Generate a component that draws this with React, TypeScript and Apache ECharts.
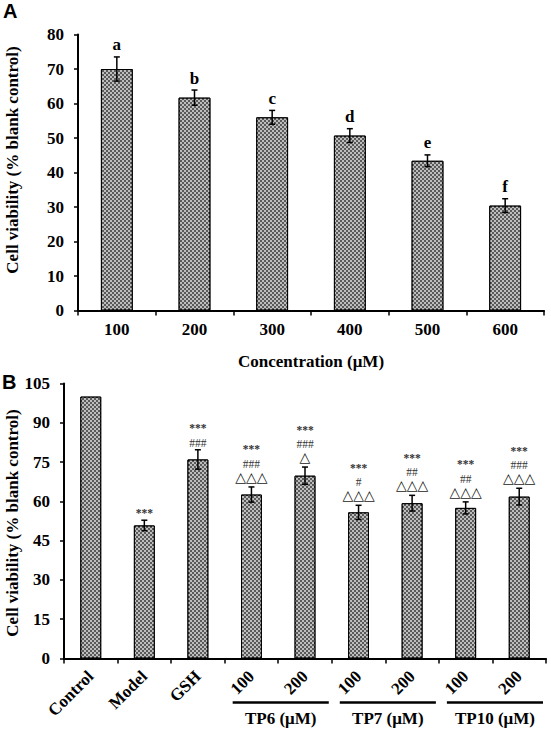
import React, { useEffect, useRef } from "react";
import * as echarts from "echarts";

// ---------- Panel A data ----------
const A_CATEGORIES = ["100", "200", "300", "400", "500", "600"];
const A_VALUES = [70.0, 61.7, 56.0, 50.7, 43.4, 30.4];
const A_ERRORS = [3.5, 2.2, 2.0, 2.0, 1.7, 2.0];
const A_LETTERS = ["a", "b", "c", "d", "e", "f"];
const A_Y_MIN = 0;
const A_Y_MAX = 80;
const A_Y_STEP = 10;
const A_X_TITLE = "Concentration (μM)";

// ---------- Panel B data ----------
const B_CATEGORIES = ["Control", "Model", "GSH", "100", "200", "100", "200", "100", "200"];
const B_VALUES = [100, 50.8, 76.0, 62.6, 69.8, 55.8, 59.3, 57.5, 61.8];
const B_ERRORS = [0, 2.0, 3.7, 2.9, 3.3, 2.7, 3.0, 2.3, 3.2];
const B_STARS = ["", "***", "***", "***", "***", "***", "***", "***", "***"];
const B_HASHES = ["", "", "###", "###", "###", "#", "##", "##", "###"];
const B_TRIANGLES = ["", "", "", "△△△", "△", "△△△", "△△△", "△△△", "△△△"];
const B_GROUPS = [
  { label: "TP6 (μM)", first: 3, last: 4 },
  { label: "TP7 (μM)", first: 5, last: 6 },
  { label: "TP10 (μM)", first: 7, last: 8 },
];
const B_Y_MIN = 0;
const B_Y_MAX = 105;
const B_Y_STEP = 15;

const Y_TITLE = "Cell viability (% blank control)";

const SERIF = '"Liberation Serif", "Times New Roman", serif';
const SANS = '"Liberation Sans", Arial, sans-serif';

const barStyle = {
  color: "#5a5a5a",
  borderColor: "#000",
  borderWidth: 1,
  decal: {
    symbol: "rect",
    symbolSize: 1,
    color: "rgba(255,255,255,0.6)",
    dashArrayX: [
      [1.5, 1.5],
      [0, 1.5, 1.5, 0],
    ],
    dashArrayY: [1.5, 0],
    rotation: 0,
  },
};

function errorBarRender(params: any, api: any) {
  const x = api.value(0);
  const v = api.value(1);
  const e = api.value(2);
  if (!e) return { type: "group", children: [] };
  const top = api.coord([x, v + e]);
  const bot = api.coord([x, v - e]);
  const cap = 3;
  const st = { stroke: "#000", lineWidth: 1.5 };
  return {
    type: "group",
    children: [
      { type: "line", shape: { x1: top[0], y1: top[1], x2: bot[0], y2: bot[1] }, style: st },
      { type: "line", shape: { x1: top[0] - cap, y1: top[1], x2: top[0] + cap, y2: top[1] }, style: st },
      { type: "line", shape: { x1: bot[0] - cap, y1: bot[1], x2: bot[0] + cap, y2: bot[1] }, style: st },
    ],
  };
}

function letterRender(params: any, api: any) {
  const i = api.value(0);
  const v = api.value(1);
  const e = api.value(2);
  const p = api.coord([i, v + e]);
  return {
    type: "text",
    x: p[0],
    y: p[1] - 12,
    style: {
      text: A_LETTERS[i],
      fill: "#000",
      font: `bold 17px ${SERIF}`,
      align: "center",
      verticalAlign: "middle",
    },
  };
}

function signifRender(params: any, api: any) {
  const i = api.value(0);
  const v = api.value(1);
  const e = api.value(2);
  const p = api.coord([i, v + e]);
  const lines: { t: string; font: string; fill: string; first: number; gap: number }[] = [];
  if (B_TRIANGLES[i]) lines.push({ t: B_TRIANGLES[i], font: `14px "DejaVu Sans", sans-serif`, fill: "#222", first: 10, gap: 13 });
  if (B_HASHES[i]) lines.push({ t: B_HASHES[i], font: `11.5px ${SERIF}`, fill: "#333", first: 7, gap: 14.5 });
  if (B_STARS[i]) lines.push({ t: B_STARS[i], font: `bold 11.5px ${SERIF}`, fill: "#333", first: 7.5, gap: 13 });
  const children: any[] = [];
  let y = p[1] - (lines.length ? lines[0].first : 0);
  lines.forEach((ln) => {
    children.push({
      type: "text",
      x: p[0],
      y,
      style: { text: ln.t, font: ln.font, fill: ln.fill, align: "center", verticalAlign: "middle" },
    });
    y -= ln.gap;
  });
  return { type: "group", children };
}

export default function App() {
  const ref = useRef<HTMLDivElement>(null);
  useEffect(() => {
    if (!ref.current) return;
    const chart = echarts.init(ref.current, null, { renderer: "svg" });
    const axisCommonX = {
      axisLine: { show: true, lineStyle: { color: "#000", width: 2 } },
      axisTick: { show: true, length: 5, lineStyle: { color: "#000", width: 1.5 } },
      splitLine: { show: false },
    };
    const axisCommonY = {
      axisLine: { show: true, lineStyle: { color: "#000", width: 2 } },
      axisTick: { show: true, length: 4, lineStyle: { color: "#000", width: 1.5 } },
      splitLine: { show: false },
    };
    const tickFont = { color: "#000", fontFamily: SERIF, fontWeight: "bold", fontSize: 17 };
    const option: any = {
      animation: false,
      backgroundColor: "#fff",
      grid: [
        { left: 78, top: 34.5, width: 466, height: 276 },
        { left: 64, top: 383.5, width: 482, height: 275 },
      ],
      xAxis: [
        {
          type: "category",
          gridIndex: 0,
          data: A_CATEGORIES,
          ...axisCommonX,
          axisLabel: { ...tickFont, margin: 10 },
          name: A_X_TITLE,
          nameLocation: "middle",
          nameGap: 42,
          nameTextStyle: { color: "#000", fontFamily: SERIF, fontWeight: "bold", fontSize: 17 },
        },
        {
          type: "category",
          gridIndex: 1,
          data: B_CATEGORIES,
          ...axisCommonX,
          axisLabel: { ...tickFont, margin: 15, rotate: 45, interval: 0 },
        },
      ],
      yAxis: [
        {
          type: "value",
          gridIndex: 0,
          min: A_Y_MIN,
          max: A_Y_MAX,
          interval: A_Y_STEP,
          ...axisCommonY,
          axisLabel: { ...tickFont, margin: 14 },
        },
        {
          type: "value",
          gridIndex: 1,
          min: B_Y_MIN,
          max: B_Y_MAX,
          interval: B_Y_STEP,
          ...axisCommonY,
          axisLabel: { ...tickFont, margin: 14 },
        },
      ],
      series: [
        {
          type: "bar",
          xAxisIndex: 0,
          yAxisIndex: 0,
          data: A_VALUES,
          barWidth: "41%",
          itemStyle: barStyle,
        },
        {
          type: "custom",
          xAxisIndex: 0,
          yAxisIndex: 0,
          data: A_VALUES.map((v, i) => [i, v, A_ERRORS[i]]),
          renderItem: errorBarRender,
          z: 5,
        },
        {
          type: "custom",
          xAxisIndex: 0,
          yAxisIndex: 0,
          data: A_VALUES.map((v, i) => [i, v, A_ERRORS[i]]),
          renderItem: letterRender,
          z: 6,
        },
        {
          type: "bar",
          xAxisIndex: 1,
          yAxisIndex: 1,
          data: B_VALUES,
          barWidth: "39%",
          itemStyle: barStyle,
        },
        {
          type: "custom",
          xAxisIndex: 1,
          yAxisIndex: 1,
          data: B_VALUES.map((v, i) => [i, v, B_ERRORS[i]]),
          renderItem: errorBarRender,
          z: 5,
        },
        {
          type: "custom",
          xAxisIndex: 1,
          yAxisIndex: 1,
          data: B_VALUES.map((v, i) => [i, v, B_ERRORS[i]]),
          renderItem: signifRender,
          z: 6,
        },
      ],
    };
    chart.setOption(option);

    // group underlines and labels below panel B, positioned through the axis scale
    const finder: any = { xAxisIndex: 1, yAxisIndex: 1 };
    const c0 = chart.convertToPixel(finder, [0, 0]) as number[];
    const c1 = chart.convertToPixel(finder, [1, 0]) as number[];
    const band = c1[0] - c0[0];
    const baseY = c0[1];
    const graphics: any[] = [];
    B_GROUPS.forEach((g) => {
      const a = chart.convertToPixel(finder, [g.first, 0]) as number[];
      const b = chart.convertToPixel(finder, [g.last, 0]) as number[];
      const x1 = a[0] - band / 2 + 8;
      const x2 = b[0] + band / 2 - 3;
      graphics.push({
        type: "line",
        shape: { x1, y1: baseY + 44, x2, y2: baseY + 44 },
        style: { stroke: "#000", lineWidth: 2.5 },
      });
      graphics.push({
        type: "text",
        x: (x1 + x2) / 2,
        y: baseY + 60,
        style: { text: g.label, font: `bold 17px ${SERIF}`, fill: "#000", align: "center", verticalAlign: "middle" },
      });
    });
    graphics.push(
      {
        type: "text",
        x: 12,
        y: 160,
        rotation: Math.PI / 2,
        style: { text: Y_TITLE, font: `bold 17px ${SERIF}`, fill: "#000", align: "center", verticalAlign: "middle" },
      },
      {
        type: "text",
        x: 12,
        y: 523,
        rotation: Math.PI / 2,
        style: { text: Y_TITLE, font: `bold 17px ${SERIF}`, fill: "#000", align: "center", verticalAlign: "middle" },
      },
      {
        type: "text",
        left: 3,
        top: 1,
        style: { text: "A", font: `bold 20px ${SANS}`, fill: "#000" },
      },
      {
        type: "text",
        left: 2,
        top: 372,
        style: { text: "B", font: `bold 20px ${SANS}`, fill: "#000" },
      }
    );
    chart.setOption({ graphic: graphics });

    return () => chart.dispose();
  }, []);
  return (
    <div
      ref={ref}
      style={{ position: "absolute", left: 0, top: 0, width: 551, height: 730, background: "#fff" }}
    />
  );
}
